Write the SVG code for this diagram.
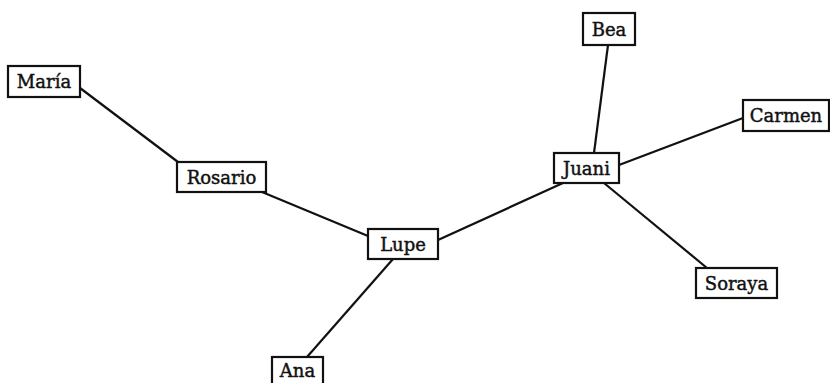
<svg xmlns="http://www.w3.org/2000/svg" width="830" height="383" viewBox="0 0 830 383">
<style>
.box{fill:#fff;stroke:#111;stroke-width:2.2}
.lbl{font-family:"DejaVu Serif","Liberation Serif",serif;font-size:18px;fill:#111;stroke:#111;stroke-width:0.45;text-anchor:middle}
.edge{stroke:#111;stroke-width:2.2;fill:none}
</style>
<rect width="830" height="383" fill="#fff"/>
<g id="connectors">
<line class="edge" x1="80" y1="88" x2="178" y2="162"/>
<line class="edge" x1="262" y1="192" x2="368" y2="236"/>
<line class="edge" x1="438" y1="240" x2="563" y2="183"/>
<line class="edge" x1="393" y1="259" x2="307" y2="357"/>
<line class="edge" x1="608" y1="45" x2="594" y2="153"/>
<line class="edge" x1="743" y1="118" x2="619" y2="165"/>
<line class="edge" x1="604" y1="183" x2="707" y2="268"/>
</g>
<g id="maria"><rect class="box" x="8" y="66" width="72" height="31"/><text class="lbl" x="44" y="88">María</text></g>
<g id="rosario"><rect class="box" x="177" y="162" width="89" height="30"/><text class="lbl" x="221.5" y="183.5">Rosario</text></g>
<g id="lupe"><rect class="box" x="368" y="229" width="70" height="30"/><text class="lbl" x="403" y="250.5">Lupe</text></g>
<g id="ana"><rect class="box" x="272" y="357" width="51" height="31"/><text class="lbl" x="297.5" y="377">Ana</text></g>
<g id="juani"><rect class="box" x="554" y="153" width="65" height="30"/><text class="lbl" x="586.5" y="174.5">Juani</text></g>
<g id="bea"><rect class="box" x="583" y="13" width="52" height="32"/><text class="lbl" x="609" y="35.5">Bea</text></g>
<g id="carmen"><rect class="box" x="743" y="100" width="86" height="31"/><text class="lbl" x="786" y="121.5">Carmen</text></g>
<g id="soraya"><rect class="box" x="696" y="268" width="81" height="30"/><text class="lbl" x="736.5" y="289.5">Soraya</text></g>
</svg>
